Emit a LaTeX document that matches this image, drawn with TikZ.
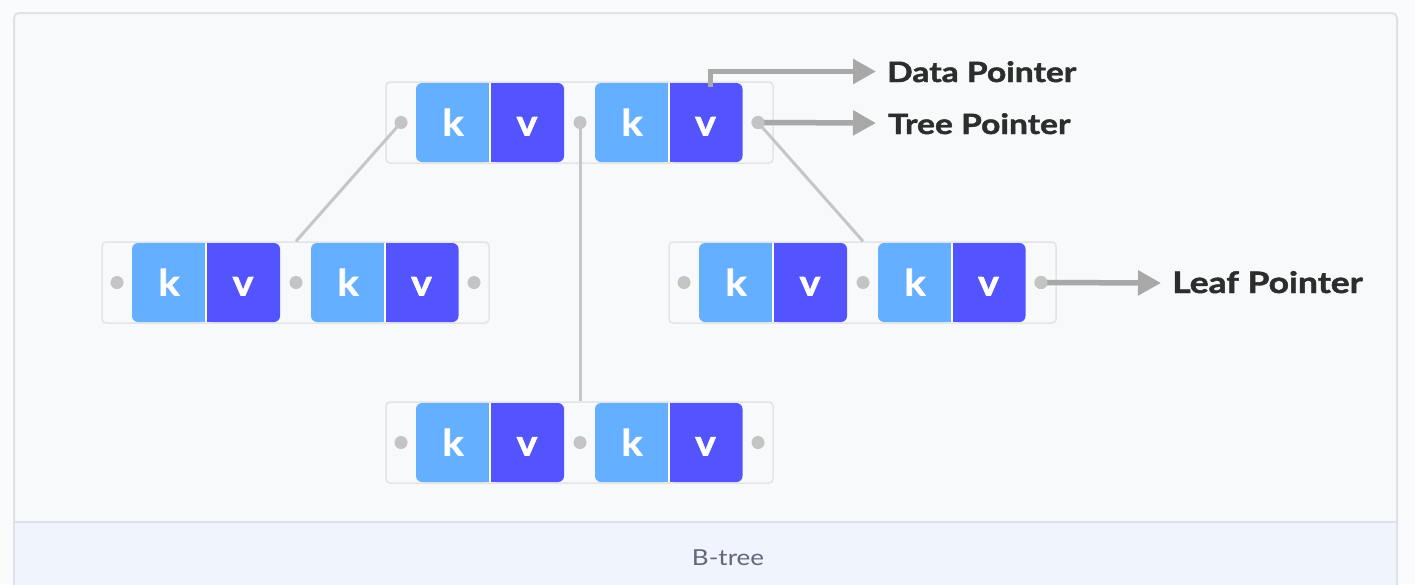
\documentclass[tikz,border=0pt]{standalone}
\usepackage{fontspec}
\setmainfont{Lato}
\newfontfamily\capfont[FakeStretch=1.18]{Lato}
\newfontfamily\labfont[FakeStretch=1.2, FakeBold=1.6]{Lato Bold}
\newfontfamily\cellfont[FakeStretch=1.1, FakeBold=1.6]{Lato Bold}
\usetikzlibrary{arrows.meta}
\definecolor{kcol}{HTML}{64AFFF}
\definecolor{vcol}{HTML}{5454FE}
\definecolor{outerbg}{HTML}{FAFBFC}
\definecolor{innerbg}{HTML}{F8F9FB}
\definecolor{capbg}{HTML}{EFF4FD}
\definecolor{framecol}{HTML}{DEE1E6}
\definecolor{boxcol}{HTML}{E2E4E8}
\definecolor{dotcol}{HTML}{C4C4C4}
\definecolor{conncol}{HTML}{C6C6C6}
\definecolor{ptrcol}{HTML}{A8A8A8}
\definecolor{labcol}{HTML}{2D2D2D}
\definecolor{captext}{HTML}{66667A}
\tikzset{
  nodebox/.style={rectangle, draw=boxcol, line width=1.5pt, fill=innerbg, rounded corners=4pt, minimum width=387pt, minimum height=81pt, inner sep=0pt},
  cellbase/.style={rectangle, rounded corners=6pt, minimum width=74pt, minimum height=79pt, inner sep=0pt, text=white, text height=26pt, text depth=0pt, font=\fontsize{36}{36}\cellfont},
  kcell/.style={cellbase, fill=kcol},
  vcell/.style={cellbase, fill=vcol},
  ptdot/.style={circle, fill=dotcol, minimum size=13pt, inner sep=0pt},
  conn/.style={draw=conncol, line width=3pt},
  ptr/.style={draw=ptrcol, line width=5.5pt, -{Triangle[length=23pt,width=24pt]}},
  plabel/.style={anchor=base west, text=labcol, inner sep=0pt, font=\fontsize{28}{28}\labfont},
}
\newcommand{\btnode}[3]{%
  \node[nodebox] (#1) at (#2+193.5,#3) {};
  \node[kcell] (#1-k1) at (#2+67,#3) {k};
  \node[vcell] (#1-v1) at (#2+141,#3) {v};
  \node[kcell] (#1-k2) at (#2+246,#3) {k};
  \node[vcell] (#1-v2) at (#2+319.5,#3) {v};
  \fill[kcol] ([xshift=-8pt]#1-k1.north east) rectangle (#1-k1.south east);
  \fill[vcol] (#1-v1.north west) rectangle ([xshift=8pt]#1-v1.south west);
  \fill[kcol] ([xshift=-8pt]#1-k2.north east) rectangle (#1-k2.south east);
  \fill[vcol] (#1-v2.north west) rectangle ([xshift=8pt]#1-v2.south west);
  \draw[white, line width=1.5pt] (#1-k1.north east) -- (#1-k1.south east);
  \draw[white, line width=1.5pt] (#1-k2.north east) -- (#1-k2.south east);
  \node[ptdot] (#1-d1) at (#2+15,#3) {};
  \node[ptdot] (#1-d2) at (#2+194,#3) {};
  \node[ptdot] (#1-d3) at (#2+372,#3) {};
}
\begin{document}
\begin{tikzpicture}[x=1pt,y=-1pt]
\clip (0,0) rectangle (1415,584);
\useasboundingbox (0,0) rectangle (1415,584);
\fill[outerbg] (0,0) rectangle (1415,584);
% frame
\draw[framecol, line width=2pt, fill=innerbg, rounded corners=5pt] (14,600) -- (14,13) -- (1397,13) -- (1397,600);
\fill[capbg] (15,523) rectangle (1396,600);
\draw[framecol, line width=2pt] (14,522) -- (1397,522);
\node[text=captext, font=\fontsize{22}{22}\capfont, anchor=base, inner sep=0pt] (cap) at (728,565) {B-tree};
% nodes
\btnode{top}{386}{122.5}
\btnode{left}{102}{282.5}
\btnode{right}{669}{282.5}
\btnode{bot}{386}{442.5}
% connectors
\draw[conn] (top-d1.center) -- (left-d2 |- left.north);
\draw[conn] (top-d2.center) -- (top-d2 |- bot.north);
\draw[conn] (top-d3.center) -- (right-d2 |- right.north);
% labels
\node[plabel] (dp) at (887,82) {Data Pointer};
\node[plabel] (tp) at (888,134) {Tree Pointer};
\node[plabel, font=\fontsize{29.5}{29.5}\labfont] (lp) at (1172,293) {Leaf Pointer};
\coordinate (dpa) at (876,71.5);
\coordinate (tpa) at (876,123);
\coordinate (lpa) at (1161,283);
\draw[ptr] ([xshift=5pt,yshift=-4pt]top-v2.north) |- (dpa);
\draw[ptr] (top-d3.center) -- (tpa);
\draw[ptr] (right-d3.center) -- (lpa);
\node[ptdot] at (top-d3) {};
\node[ptdot] at (right-d3) {};
\end{tikzpicture}
\end{document}
